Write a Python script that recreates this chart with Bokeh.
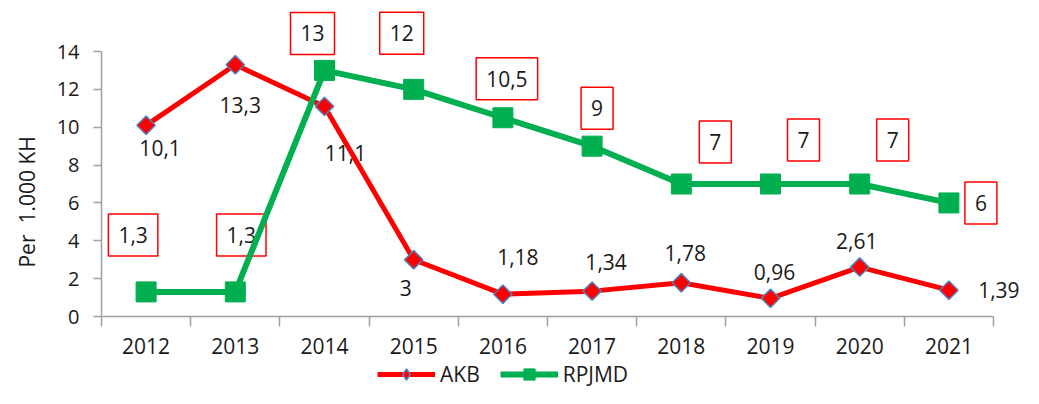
import math

from bokeh.plotting import figure
from bokeh.layouts import column
from bokeh.models import ColumnDataSource, Range1d, FixedTicker, Legend, LegendItem
from bokeh.core.properties import value
from bokeh.embed import file_html
from bokeh.resources import INLINE

# --- data -------------------------------------------------------------
years = ["2012", "2013", "2014", "2015", "2016", "2017", "2018", "2019", "2020", "2021"]
akb = [10.1, 13.3, 11.1, 3, 1.18, 1.34, 1.78, 0.96, 2.61, 1.39]
rpjmd = [1.3, 1.3, 13, 12, 10.5, 9, 7, 7, 7, 6]
y_ticks = [0, 2, 4, 6, 8, 10, 12, 14]
y_max = 14

# --- label placement (screen pixels, relative to each point; +dy is down) ----
akb_dx = [14, 5, 21, -8, 15, 14, 4, 4, -3, 50]
akb_dy = [23, 40, 47, 28, -37, -29, -30, -26, -26, 0]
rp_dx = [-13, 6, -12, -12, 4, 5, 34, 33, 33, 32]
rp_dy = [-57, -57, -37, -56, -39, -38, -42, -44, -44, 0]

FONT = "Open Sans"
TEXT = "#1a1a1a"
AXIS = "#a0a0a0"
RED = "#ff0000"
GREEN = "#00b050"
BLUE = "#4f81bd"
NB = "\u00a0"

W = 1039
MAIN_H = 360
LEGEND_H = 404 - MAIN_H

# frame geometry: axes span 101..993 px horizontally and 51..316 px vertically;
# the frame reaches a little further so the outer value boxes stay visible
AX_L, AX_R, AX_T, AX_B = 101, 993, 51, 316
FR_T, FR_R = 5, 1032


def fmt(v):
    return f"{v:g}".replace(".", ",")


idx = list(range(len(years)))
px_per_cat = (AX_R - AX_L) / len(years)
px_per_unit = (AX_B - AX_T) / y_max

akb_src = ColumnDataSource(dict(
    x=idx, y=akb, label=[fmt(v) for v in akb], dx=akb_dx, dy=akb_dy))
rp_src = ColumnDataSource(dict(
    x=idx, y=rpjmd, label=[fmt(v) for v in rpjmd], dx=rp_dx, dy=rp_dy))

p = figure(
    width=W, height=MAIN_H,
    x_range=Range1d(-0.5, -0.5 + (FR_R - AX_L) / px_per_cat),
    y_range=Range1d(0, y_max + (AX_T - FR_T) / px_per_unit),
    output_backend="svg", toolbar_location=None,
    min_border_left=AX_L, min_border_right=W - FR_R,
    min_border_top=FR_T, min_border_bottom=MAIN_H - AX_B,
)
p.outline_line_color = None
p.xgrid.grid_line_color = None
p.ygrid.grid_line_color = None
p.background_fill_color = "white"
p.border_fill_color = "white"

# value labels
p.text(x="x", y="y", text="label", source=akb_src,
       x_offset="dx", y_offset="dy",
       text_font=value(FONT), text_font_size="21px", text_color=TEXT,
       text_align="center", text_baseline="middle")
p.text(x="x", y="y", text="label", source=rp_src,
       x_offset="dx", y_offset="dy",
       text_font=value(FONT), text_font_size="21px", text_color=TEXT,
       text_align="center", text_baseline="middle",
       border_line_color=RED, border_line_width=1.5,
       padding=dict(left=10, right=10, top=13, bottom=13))

# series
p.line("x", "y", source=akb_src, line_color=RED, line_width=5, line_join="round")
p.scatter("x", "y", source=akb_src, marker="square", angle=math.pi / 4,
          size=13, fill_color=RED, line_color=BLUE, line_width=1.5)
p.line("x", "y", source=rp_src, line_color=GREEN, line_width=6, line_join="round")
p.scatter("x", "y", source=rp_src, marker="square", size=20,
          fill_color=GREEN, line_color=GREEN)

# x axis: year labels at centres, tick marks between categories
xa = p.xaxis[0]
xa.bounds = (-0.5, len(years) - 0.5)
xa.ticker = FixedTicker(ticks=idx, minor_ticks=[i - 0.5 for i in range(len(years) + 1)])
xa.major_label_overrides = {i: y for i, y in enumerate(years)}
xa.major_tick_line_color = None
xa.major_tick_out = 0
xa.major_tick_in = 0
xa.minor_tick_out = 10
xa.minor_tick_in = 0
xa.minor_tick_line_color = AXIS
xa.minor_tick_line_width = 1.5
xa.axis_line_color = AXIS
xa.axis_line_width = 1.5
xa.major_label_standoff = 11
xa.major_label_text_font = FONT
xa.major_label_text_font_size = "21px"
xa.major_label_text_color = TEXT

ya = p.yaxis[0]
ya.bounds = (0, y_max)
ya.ticker = FixedTicker(ticks=y_ticks, minor_ticks=[])
ya.major_tick_out = 8
ya.major_tick_in = 0
ya.major_tick_line_color = AXIS
ya.major_tick_line_width = 1.5
ya.axis_line_color = AXIS
ya.axis_line_width = 1.5
ya.major_label_standoff = 14
ya.major_label_text_font = FONT
ya.major_label_text_font_size = "20px"
ya.major_label_text_color = TEXT
# trailing no-break spaces push the label towards the lower part of the axis
ya.axis_label = "Per" + NB * 2 + "1.000 KH" + NB * 15
ya.axis_label_standoff = 13
ya.axis_label_text_font = FONT
ya.axis_label_text_font_size = "21px"
ya.axis_label_text_font_style = "normal"
ya.axis_label_text_color = TEXT

# legend strip below the chart; its renderers share the series sources but
# their ranges keep the data itself out of view, so only the legend shows
LEG_FRAME_H = 28
lf = figure(
    width=W, height=LEGEND_H,
    x_range=Range1d(100, 101), y_range=Range1d(100, 101),
    x_axis_location=None, y_axis_location=None,
    output_backend="svg", toolbar_location=None,
    min_border_left=AX_L, min_border_right=W - FR_R,
    min_border_top=0, min_border_bottom=LEGEND_H - LEG_FRAME_H,
)
lf.outline_line_color = None
lf.xgrid.grid_line_color = None
lf.ygrid.grid_line_color = None
leg_akb_line = lf.line("x", "y", source=akb_src, line_color=RED, line_width=5)
leg_akb_pt = lf.scatter("x", "y", source=akb_src, marker="diamond", fill_color=RED,
                        line_color=BLUE, line_width=1.5)
leg_rp_line = lf.line("x", "y", source=rp_src, line_color=GREEN, line_width=6)
leg_rp_pt = lf.scatter("x", "y", source=rp_src, marker="square",
                       fill_color=GREEN, line_color=GREEN)

legend = Legend(
    items=[LegendItem(label="AKB", renderers=[leg_akb_line, leg_akb_pt]),
           LegendItem(label="RPJMD", renderers=[leg_rp_line, leg_rp_pt])],
    orientation="horizontal", location=(377 - AX_L, 0),
    glyph_width=58, glyph_height=LEG_FRAME_H, label_standoff=5, spacing=20,
    padding=0, margin=0, border_line_color=None, background_fill_alpha=0,
    label_text_font=FONT, label_text_font_size="21px", label_text_color=TEXT,
)
lf.add_layout(legend, "center")

open("out.html", "w").write(file_html(column(p, lf, spacing=0), INLINE))
